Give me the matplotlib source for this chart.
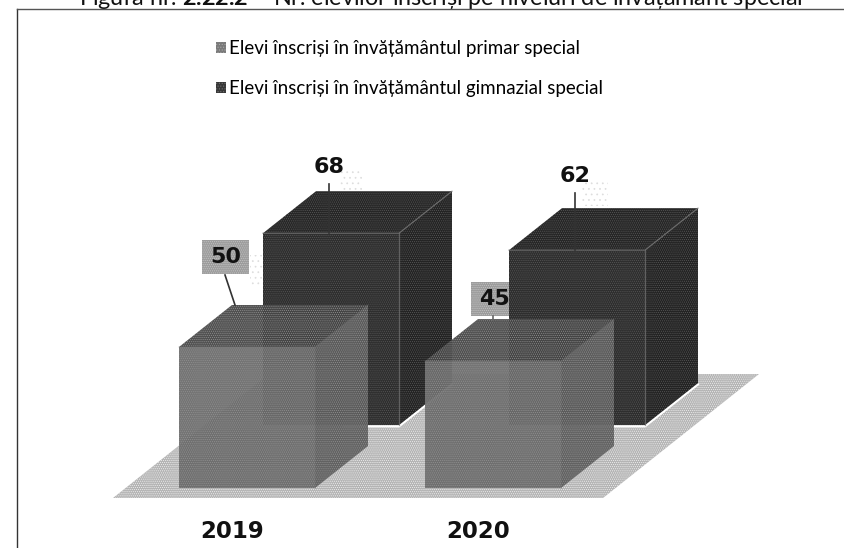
import matplotlib
matplotlib.use("Agg")
import matplotlib.pyplot as plt
from matplotlib.patches import Polygon, Patch, Rectangle

years = ["2019", "2020"]
primar = [50, 45]
gimnazial = [68, 62]
primar_label = "Elevi înscriși în învățământul primar special"
gimnazial_label = "Elevi înscriși în învățământul gimnazial special"
title_text = r"Figura nr. $\mathbf{2.22.2}$ – Nr. elevilor înscriși pe niveluri de învățământ special"

# scale of the page, one year = 246 px, one student = 2.82 px
PX_X = 246.0
PX_Y = 2.82
X0 = 247.0
Y0 = 488.0
BAR_W = 136 / PX_X
DEPTH_X = 53 / PX_X
DEPTH_Y = 42 / PX_Y
BACK_X = 84 / PX_X
BACK_Y = 63 / PX_Y

plt.rcParams["hatch.linewidth"] = 0.5
plt.rcParams["mathtext.fontset"] = "custom"
plt.rcParams["mathtext.bf"] = "Lato:bold"
plt.rcParams["mathtext.rm"] = "Lato"

fig = plt.figure(figsize=(8.45, 5.48), dpi=100)
ax = fig.add_axes([0, 0, 1, 1])
ax.set_xlim(-X0 / PX_X, (845 - X0) / PX_X)
ax.set_ylim((Y0 - 548) / PX_Y, Y0 / PX_Y)
ax.axis("off")


def draw_bar(x, value, base, faces, speck, alpha, z, edge_alpha):
    l = x - BAR_W / 2
    r = x + BAR_W / 2
    top = base + value
    front = [(l, base), (r, base), (r, top), (l, top)]
    roof = [(l, top), (r, top), (r + DEPTH_X, top + DEPTH_Y), (l + DEPTH_X, top + DEPTH_Y)]
    side = [(r, base), (r + DEPTH_X, base + DEPTH_Y), (r + DEPTH_X, top + DEPTH_Y), (r, top)]
    for pts, col in zip((front, roof, side), faces):
        ax.add_patch(Polygon(pts, closed=True, facecolor=col, edgecolor=speck, hatch="........",
                             linewidth=0, alpha=alpha, zorder=z))
    # lighter edges between the faces
    ax.plot([l, r, r + DEPTH_X], [top, top, top + DEPTH_Y], color="#777777", lw=0.9, alpha=edge_alpha, zorder=z + 0.1)
    ax.plot([r, r], [base, top], color="#777777", lw=0.9, alpha=edge_alpha, zorder=z + 0.1)


def value_label(x, y, text):
    ax.text(x, y, text, ha="center", va="center", fontsize=16, family="DejaVu Sans",
            weight="bold", color="#111111", zorder=6)


# floor
floor_l = -BAR_W / 2 - 66 / PX_X
floor_r = 356 / PX_X
floor_low = -10 / PX_Y
floor_high = 114 / PX_Y
floor_run = 156 / PX_X
ax.add_patch(Polygon([(floor_l, floor_low), (floor_r, floor_low), (floor_r + floor_run, floor_high),
                      (floor_l + floor_run, floor_high)], closed=True, facecolor="#b4b4b4",
                     edgecolor="#eeeeee", hatch="........", linewidth=0, zorder=1))

# boxes behind the bars, px from the middle of the bar and from its top
box_dx = [-21.5, 1.5]
box_dy = [90, 62]
for i, v in enumerate(primar):
    ax.add_patch(Rectangle((i + (box_dx[i] - 23.5) / PX_X, v + (box_dy[i] - 17) / PX_Y), 47 / PX_X, 34 / PX_Y,
                           facecolor="#9c9c9c", edgecolor="#c4c4c4", hatch="........", linewidth=0, zorder=2))

# faint shadow specks near the labels
for px, py, pw, ph in [(340, 170, 22, 20), (582, 180, 26, 26), (250, 255, 13, 32)]:
    ax.add_patch(Rectangle(((px - X0) / PX_X, (Y0 - py - ph) / PX_Y), pw / PX_X, ph / PX_Y, facecolor="none",
                           edgecolor="#dddddd", hatch="...", linewidth=0, zorder=1.5))

for i in range(len(years)):
    draw_bar(i + BACK_X, gimnazial[i], BACK_Y, ("#2e2e2e", "#262626", "#232323"), "#565656", 1, 3, 0.7)
    # white strip under the back bars
    bl = i + BACK_X - BAR_W / 2
    ax.plot([bl + 0.33, bl + BAR_W, bl + BAR_W + DEPTH_X], [BACK_Y - 0.5, BACK_Y - 0.5, BACK_Y + DEPTH_Y - 0.5],
            color="white", lw=1.5, zorder=2.5)
for i in range(len(years)):
    draw_bar(i, primar[i], 0, ("#6c6c6c", "#464646", "#5e5e5e"), "#909090", 0.95, 4, 0.25)

# labels with their leader lines
back_dx = [82, 82]
back_dy = [66, 74]
for i, v in enumerate(gimnazial):
    x = i + back_dx[i] / PX_X
    top = BACK_Y + v
    ax.plot([x, x], [top, top + (back_dy[i] - 17) / PX_Y], color="#333333", lw=1.2, zorder=5)
    value_label(x, top + back_dy[i] / PX_Y, str(v))
for i, v in enumerate(primar):
    if i == 0:
        ax.plot([i - 12 / PX_X, i - 22 / PX_X], [v + 42 / PX_Y, v + 72 / PX_Y], color="#333333", lw=1.2, zorder=5)
    else:
        ax.plot([i, i], [v + 41 / PX_Y, v + 45 / PX_Y], color="#666666", lw=1.2, zorder=5)
    value_label(i + box_dx[i] / PX_X, v + box_dy[i] / PX_Y, str(v))

# years below the floor
for i, y in enumerate(years):
    ax.text(i - 15 / PX_X, -43 / PX_Y, y, ha="center", va="center", fontsize=16.5,
            family="DejaVu Sans", weight="bold", color="#111111")

# frame of the scanned figure
fx = -(X0 - 17) / PX_X
ftop = (Y0 - 9) / PX_Y
ax.plot([fx, fx], [(Y0 - 548) / PX_Y, ftop], color="#333333", lw=1.0, zorder=7)
ax.plot([fx, (845 - X0) / PX_X], [ftop, ftop], color="#555555", lw=1.0, zorder=7)

# the title is cut by the top of the scan
ax.text((441 - X0) / PX_X, (Y0 - 5) / PX_Y, title_text, ha="center", va="baseline",
        fontsize=16.8, family="Lato", color="#111111")

handles = [Patch(facecolor="#7a7a7a", edgecolor="#a8a8a8", hatch="......", linewidth=0),
           Patch(facecolor="#383838", edgecolor="#707070", hatch="......", linewidth=0)]
ax.legend(handles, [primar_label, gimnazial_label], loc="upper left", bbox_to_anchor=(216 / 845, 1 - 40 / 548),
          frameon=False, handlelength=0.55, handleheight=0.55, handletextpad=0.15, labelspacing=1.25,
          borderpad=0, borderaxespad=0, prop={"family": "Lato", "size": 13.5})

fig.savefig("out.png", dpi=100)
